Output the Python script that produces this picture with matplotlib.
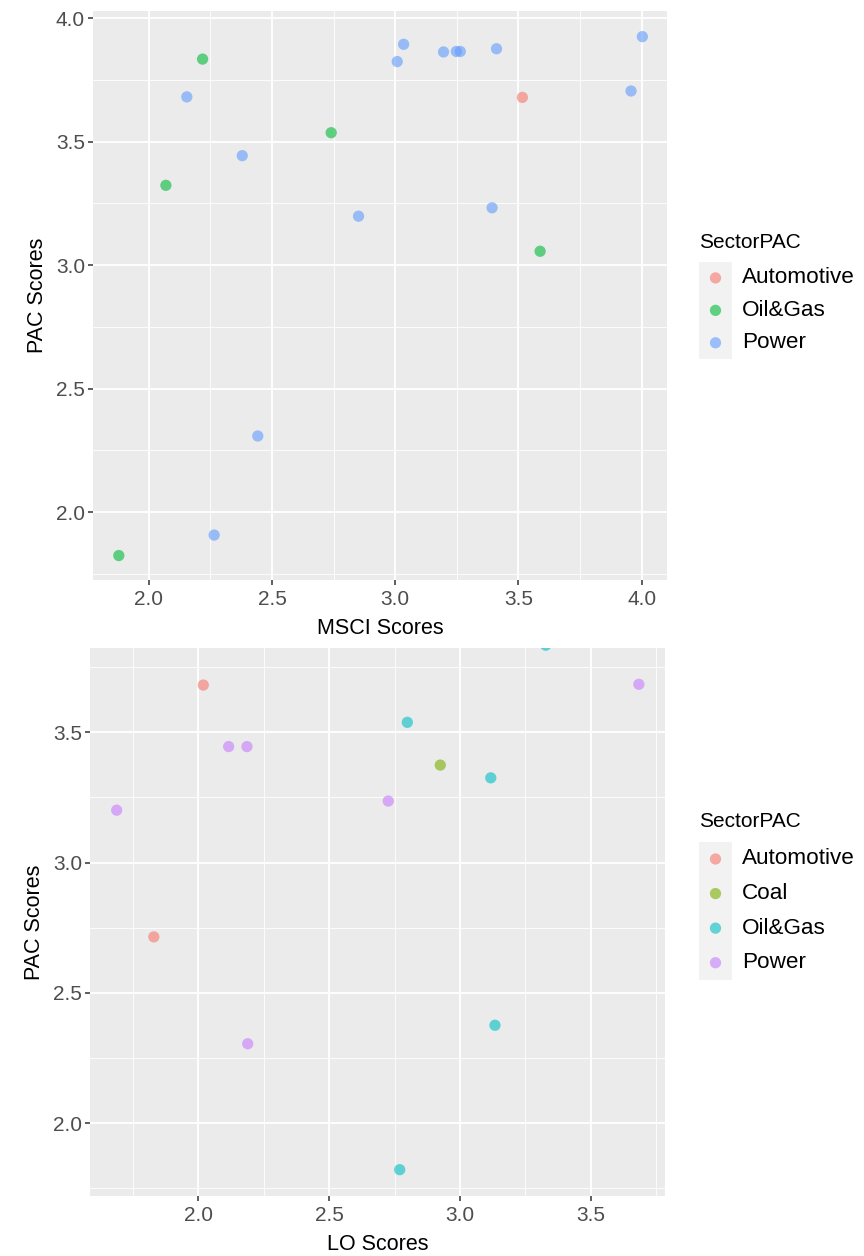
import matplotlib
matplotlib.use("Agg")
import matplotlib.pyplot as plt
import numpy as np

# ggplot-ish look
plt.rcParams['font.family'] = ['Liberation Sans', 'DejaVu Sans']

# ---- data: MSCI vs PAC (top) ----
msci_sectors = ['Automotive', 'Oil&Gas', 'Power']
msci_colors = ['#F8766D', '#00BA38', '#619CFF']
msci_auto_x = [3.516]
msci_auto_y = [3.679]
msci_oil_x = [2.218, 2.069, 2.740, 3.588, 1.878]
msci_oil_y = [3.834, 3.323, 3.536, 3.056, 1.824]
msci_pow_x = [2.154, 2.379, 2.851, 3.008, 3.034, 3.196, 3.248, 3.264, 3.411,
              4.003, 3.957, 3.393, 2.442, 2.265]
msci_pow_y = [3.681, 3.443, 3.198, 3.824, 3.894, 3.863, 3.865, 3.865, 3.876,
              3.925, 3.705, 3.232, 2.308, 1.907]

# ---- data: LO vs PAC (bottom) ----
lo_sectors = ['Automotive', 'Coal', 'Oil&Gas', 'Power']
lo_colors = ['#F8766D', '#7CAE00', '#00BFC4', '#C77CFF']
lo_auto_x = [2.019, 1.830]
lo_auto_y = [3.681, 2.715]
lo_coal_x = [2.925]
lo_coal_y = [3.374]
lo_oil_x = [3.328, 2.799, 3.118, 3.134, 2.770]
lo_oil_y = [3.834, 3.538, 3.325, 2.376, 1.822]
lo_pow_x = [2.116, 2.186, 1.688, 3.684, 2.726, 2.189]
lo_pow_y = [3.445, 3.445, 3.201, 3.684, 3.236, 2.305]

W, H = 864, 1256
PT_SIZE = 66
ALPHA = 0.6


def px_axes(fig, left, top, right, bottom):
    return fig.add_axes([left / W, 1 - bottom / H, (right - left) / W, (bottom - top) / H])


def style_panel(ax, xticks, yticks, xminor, yminor, xlabel):
    ax.set_facecolor('#EBEBEB')
    for s in ax.spines.values():
        s.set_visible(False)
    ax.set_xticks(xticks)
    ax.set_yticks(yticks)
    ax.set_xticks(xminor, minor=True)
    ax.set_yticks(yminor, minor=True)
    ax.set_xticklabels(['%.1f' % v for v in xticks])
    ax.set_yticklabels(['%.1f' % v for v in yticks])
    ax.grid(which='major', color='white', linewidth=1.3)
    ax.grid(which='minor', color='white', linewidth=0.6)
    ax.set_axisbelow(True)
    ax.tick_params(which='major', length=3.5, width=1.1, color='#333333',
                   labelcolor='#4D4D4D', labelsize=15, pad=2)
    ax.tick_params(axis='x', which='major', pad=3.5)
    ax.tick_params(which='minor', length=0)
    ax.set_xlabel(xlabel, fontsize=15.5, labelpad=7)
    ax.set_ylabel('PAC Scores', fontsize=15.5, labelpad=6)


def draw_legend(fig, sectors, colors, title_y, box_top, box_bottom):
    n = len(sectors)
    lax = px_axes(fig, 699, box_top, 732, box_bottom)
    lax.set_facecolor('#F2F2F2')
    for s in lax.spines.values():
        s.set_visible(False)
    lax.set_xticks([])
    lax.set_yticks([])
    lax.set_xlim(0, 1)
    lax.set_ylim(n - 0.5, -0.5)
    for i, (name, c) in enumerate(zip(sectors, colors)):
        lax.scatter([0.5], [i], s=PT_SIZE, color=c, alpha=ALPHA, edgecolors='none')
        lax.text(1.3, i, name, ha='left', va='center', fontsize=16.2, clip_on=False)
    fig.text(699 / W, 1 - title_y / H, 'SectorPAC', ha='left', va='center', fontsize=15)


fig = plt.figure(figsize=(W / 100, H / 100), dpi=100)

# top panel
ax1 = px_axes(fig, 92.7, 10.7, 667, 580)
for xs, ys, c in [(msci_auto_x, msci_auto_y, msci_colors[0]),
                  (msci_oil_x, msci_oil_y, msci_colors[1]),
                  (msci_pow_x, msci_pow_y, msci_colors[2])]:
    ax1.scatter(xs, ys, s=PT_SIZE, color=c, alpha=ALPHA, edgecolors='none')
ax1.set_xlim(1.772, 4.103)
ax1.set_ylim(1.725, 4.03)
style_panel(ax1, [2.0, 2.5, 3.0, 3.5, 4.0], [2.0, 2.5, 3.0, 3.5, 4.0],
            [2.25, 2.75, 3.25, 3.75], [1.75, 2.25, 2.75, 3.25, 3.75], 'MSCI Scores')
draw_legend(fig, msci_sectors, msci_colors, 243, 261.7, 359)

# bottom panel
ax2 = px_axes(fig, 90, 648.3, 665, 1196)
for xs, ys, c in [(lo_auto_x, lo_auto_y, lo_colors[0]),
                  (lo_coal_x, lo_coal_y, lo_colors[1]),
                  (lo_oil_x, lo_oil_y, lo_colors[2]),
                  (lo_pow_x, lo_pow_y, lo_colors[3])]:
    ax2.scatter(xs, ys, s=PT_SIZE, color=c, alpha=ALPHA, edgecolors='none')
ax2.set_xlim(1.586, 3.784)
ax2.set_ylim(1.721, 3.822)
style_panel(ax2, [2.0, 2.5, 3.0, 3.5], [2.0, 2.5, 3.0, 3.5],
            [1.75, 2.25, 2.75, 3.25, 3.75], [1.75, 2.25, 2.75, 3.25, 3.75], 'LO Scores')
draw_legend(fig, lo_sectors, lo_colors, 821.7, 841.7, 980)

fig.savefig('out.png', dpi=100)
